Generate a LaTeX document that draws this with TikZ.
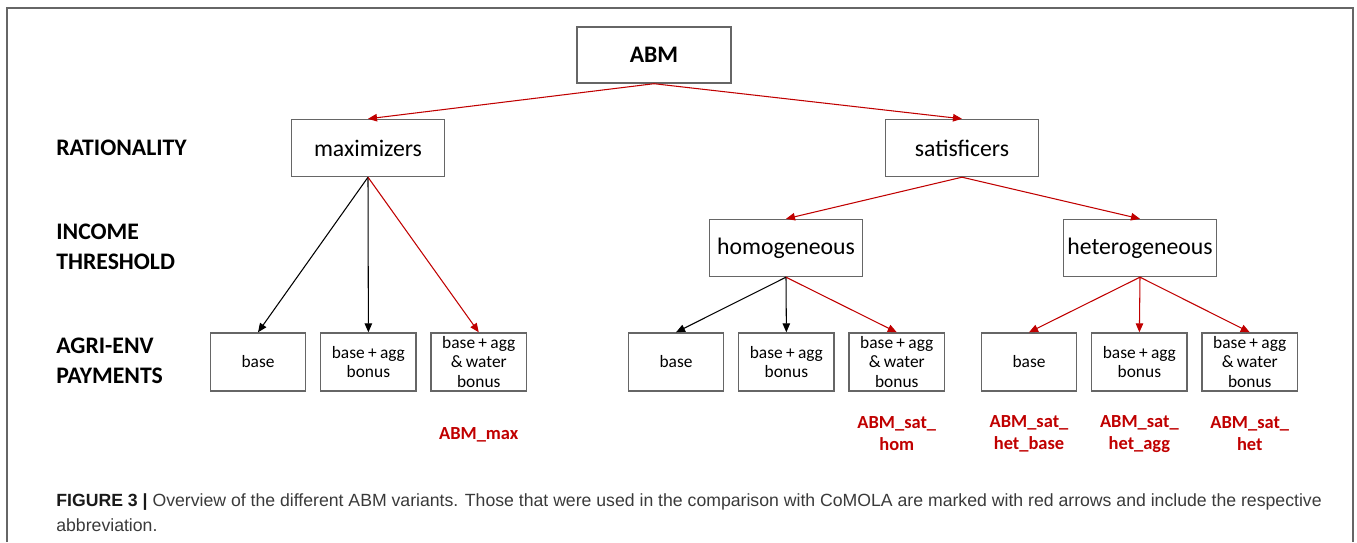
\documentclass[tikz,border=0pt]{standalone}
\usepackage{fontspec}
\setmainfont{Carlito}
\newfontfamily\capfont{Liberation Sans}
\usetikzlibrary{arrows.meta,positioning}
\definecolor{abmred}{HTML}{C00000}
\definecolor{abmgray}{HTML}{666666}
\definecolor{capgray}{HTML}{3A3A3A}
\newcommand\leaffont{\fontsize{9.9}{11}\selectfont\spaceskip=0.19em\relax}

\begin{document}
\begin{tikzpicture}[x=0.02cm,y=-0.02cm,
  node distance=2.7mm,
  box/.style={draw=abmgray,line width=0.8pt,align=center,inner sep=1pt},
  top/.style={box,minimum width=30.8mm,minimum height=11.2mm,
              font=\bfseries\fontsize{13.5}{16}\selectfont},
  mid/.style={box,minimum width=30.6mm,minimum height=11.4mm,
              font=\fontsize{13.5}{16}\selectfont},
  leaf/.style={box,minimum width=19.1mm,minimum height=11.6mm,font=\leaffont},
  lab/.style={anchor=west,align=left,inner sep=0pt,
              font=\bfseries\fontsize{13.5}{17}\selectfont},
  abbr/.style={align=center,text=abmred,font=\bfseries\fontsize{10.5}{12.5}\selectfont},
  ak/.style={-{Triangle[length=1.8mm,width=1.5mm]},line width=0.6pt},
  ar/.style={ak,abmred}
]
\useasboundingbox (0,0) rectangle (1357,542);
\draw[abmgray,line width=0.9pt] (7,542) -- (7,8) -- (1353,8) -- (1353,542);

% levels
\node[lab](rat) at (56,148){RATIONALITY};
\node[lab](inc) at (56,247){INCOME\\THRESHOLD};
\node[lab](pay) at (56,361){AGRI-ENV\\PAYMENTS};

% tree
\node[top](abm) at (654,55){ABM};
\node[mid](max) at (368,148){maximizers};
\node[mid](sat) at (962,148){satisficers};
\node[mid](hom) at (786,248){homogeneous};
\node[mid](het) at (1140,248){heterogeneous};

\node[leaf](m1) at (258,362){base};
\node[leaf,right=of m1](m2){base + agg\\bonus};
\node[leaf,right=of m2](m3){base + agg\\\& water\\bonus};
\node[leaf](h1) at (676,362){base};
\node[leaf,right=of h1](h2){base + agg\\bonus};
\node[leaf,right=of h2](h3){base + agg\\\& water\\bonus};
\node[leaf](e1) at (1029,362){base};
\node[leaf,right=of e1](e2){base + agg\\bonus};
\node[leaf,right=of e2](e3){base + agg\\\& water\\bonus};

% abbreviations
\node[abbr](amax) at ([yshift=-14.5mm]m3.center){ABM\_max};
\node[abbr](ahom) at ([yshift=-14.4mm]h3.center){ABM\_sat\_\\hom};
\node[abbr](ahb) at ([yshift=-14.4mm]e1.center){ABM\_sat\_\\het\_base};
\node[abbr](aha) at ([yshift=-14.4mm]e2.center){ABM\_sat\_\\het\_agg};
\node[abbr](ahe) at ([yshift=-14.4mm]e3.center){ABM\_sat\_\\het};

\foreach \n in {max,sat}
  \draw[ar](abm.south)--(\n.north);
\foreach \n in {hom,het}
  \draw[ar](sat.south)--(\n.north);
\foreach \p/\a/\b/\c in {max/m1/m2/m3,hom/h1/h2/h3}{
  \draw[ak](\p.south)--(\a.north);
  \draw[ak](\p.south)--(\b.north);
  \draw[ar](\p.south)--(\c.north);
}
\foreach \n in {e1,e2,e3}
  \draw[ar](het.south)--(\n.north);

% caption
\node[anchor=north west,align=left,inner sep=0pt,text=capgray,
      font=\capfont\fontsize{10.05}{14.2}\selectfont](cap) at (56,493)
  {{\bfseries\color{black!90}FIGURE 3 |} Overview of the different ABM variants. Those that were used in the comparison with CoMOLA are marked with red arrows and include the respective\\abbreviation.};
\end{tikzpicture}
\end{document}
